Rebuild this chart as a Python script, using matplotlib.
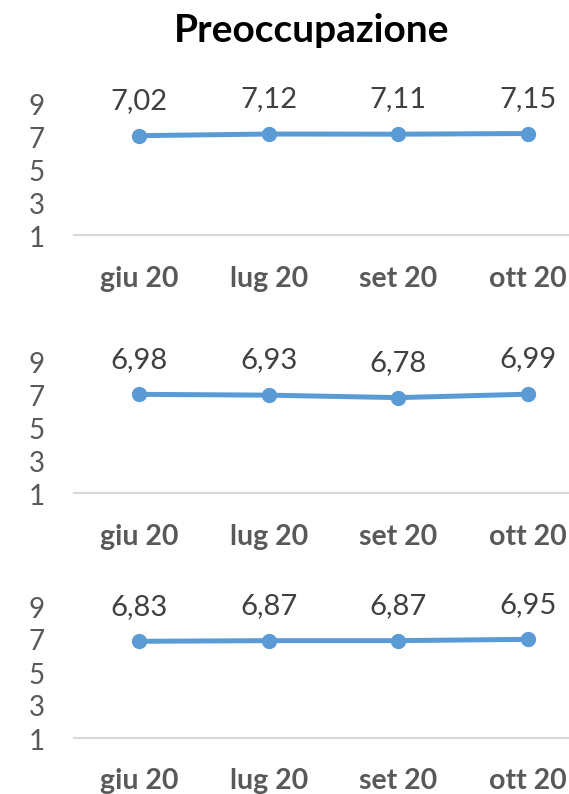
import matplotlib.pyplot as plt
import matplotlib.transforms as mtransforms

# Dati del grafico: tre serie mensili
mesi = ["giu 20", "lug 20", "set 20", "ott 20"]
serie_1 = [7.02, 7.12, 7.11, 7.15]
serie_2 = [6.98, 6.93, 6.78, 6.99]
serie_3 = [6.83, 6.87, 6.87, 6.95]
tick_y = [1, 3, 5, 7, 9]

W, H = 569, 794
BLU = "#5B9BD5"
GRIGIO = "#595959"

plt.rcParams["font.family"] = ["Lato", "DejaVu Sans"]

fig = plt.figure(figsize=(W / 100, H / 100), dpi=100)

# Titolo
fig.text(312 / W, 1 - 30 / H, "Preoccupazione", ha="center", va="center",
         fontsize=28, fontweight="bold", color="black")

# posizione in pixel (basso, alto) per ogni pannello
pannelli = [
    (serie_1, 235, 103),
    (serie_2, 493, 361),
    (serie_3, 737.5, 605.5),
]
x_sx, x_dx = 74, 593


def disegna(valori, basso, alto):
    ax = fig.add_axes([x_sx / W, 1 - basso / H, (x_dx - x_sx) / W,
                       (basso - alto) / H])
    xs = list(range(len(mesi)))
    ax.plot(xs, valori, color=BLU, linewidth=3.6, marker="o",
            markersize=10, solid_capstyle="round")
    for x, v in zip(xs, valori):
        ax.annotate(f"{v:.2f}".replace(".", ","), (x, v),
                    xytext=(0, 25), textcoords="offset points",
                    ha="center", va="center", fontsize=21, color="#404040")
    ax.set_xlim(-0.5, 3.5)
    ax.set_ylim(1, 9)
    ax.set_yticks(tick_y)
    ax.set_yticklabels([str(t) for t in tick_y])
    ax.set_xticks(xs)
    ax.set_xticklabels(mesi, fontweight="bold")
    for s in ["top", "right", "left"]:
        ax.spines[s].set_visible(False)
    ax.spines["bottom"].set_color("#D9D9D9")
    ax.spines["bottom"].set_linewidth(1.5)
    ax.tick_params(axis="y", length=0, pad=21, labelsize=20,
                   labelcolor=GRIGIO)
    ax.tick_params(axis="x", length=0, pad=22, labelsize=20.5,
                   labelcolor=GRIGIO)
    ax.patch.set_visible(False)
    spost = mtransforms.ScaledTranslation(0, -4 / 100, fig.dpi_scale_trans)
    for lbl in ax.get_yticklabels():
        lbl.set_verticalalignment("center")
        lbl.set_transform(lbl.get_transform() + spost)


for valori, basso, alto in pannelli:
    disegna(valori, basso, alto)

fig.savefig("out.png", dpi=100)
